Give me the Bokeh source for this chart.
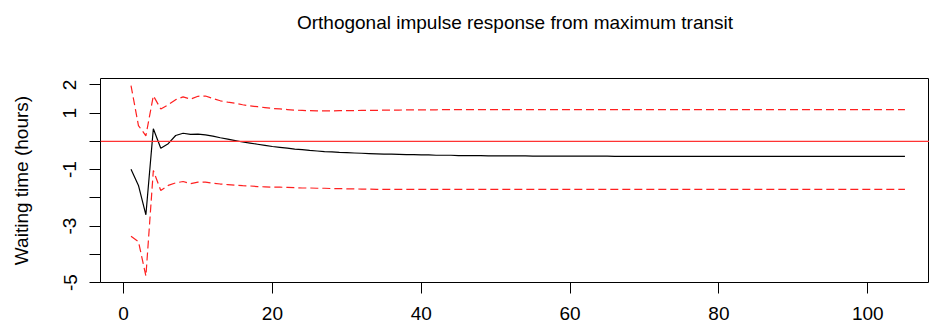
from bokeh.plotting import figure
from bokeh.models import Range1d, FixedTicker, Span, AllLabels, LinearAxis
from bokeh.embed import file_html
from bokeh.resources import INLINE

# horizon steps
steps = list(range(1, 106))

# orthogonal impulse response (black line)
irf = [-0.99, -1.56, -2.60, 0.45, -0.24, -0.08, 0.21, 0.29, 0.25, 0.26,
       0.23, 0.19, 0.13, 0.08, 0.03, -0.02, -0.06, -0.10, -0.14, -0.18,
       -0.21, -0.24, -0.27, -0.29, -0.32, -0.34, -0.36, -0.37, -0.39, -0.40,
       -0.41, -0.42, -0.43, -0.44, -0.45, -0.45, -0.46, -0.47, -0.47, -0.48,
       -0.48, -0.49, -0.49, -0.49, -0.50, -0.50, -0.50, -0.50, -0.51, -0.51,
       -0.51, -0.51, -0.51, -0.51, -0.52, -0.52, -0.52, -0.52, -0.52, -0.52,
       -0.52, -0.52, -0.52, -0.52, -0.52, -0.53, -0.53, -0.53, -0.53, -0.53,
       -0.53, -0.53, -0.53, -0.53, -0.53, -0.53, -0.53, -0.53, -0.53, -0.53,
       -0.53, -0.53, -0.53, -0.53, -0.53, -0.53, -0.53, -0.53, -0.53, -0.53,
       -0.53, -0.53, -0.53, -0.53, -0.53, -0.53, -0.53, -0.53, -0.53, -0.53,
       -0.53, -0.53, -0.53, -0.53, -0.53]

# upper confidence band
upper = [1.98, 0.56, 0.20, 1.62, 1.15, 1.30, 1.48, 1.58, 1.50, 1.60,
         1.61, 1.52, 1.44, 1.39, 1.35, 1.30, 1.26, 1.23, 1.20, 1.17,
         1.15, 1.13, 1.11, 1.10, 1.09, 1.08, 1.08, 1.08, 1.09, 1.09,
         1.09, 1.10, 1.10, 1.10, 1.11, 1.11, 1.11, 1.12, 1.12, 1.12,
         1.12, 1.12, 1.13, 1.13, 1.13, 1.13, 1.13, 1.13, 1.13, 1.13,
         1.13, 1.13, 1.13, 1.13, 1.13, 1.13, 1.13, 1.13, 1.13, 1.13,
         1.13, 1.13, 1.13, 1.13, 1.13, 1.13, 1.13, 1.13, 1.13, 1.13,
         1.13, 1.13, 1.13, 1.13, 1.13, 1.13, 1.13, 1.13, 1.13, 1.13,
         1.13, 1.13, 1.13, 1.13, 1.13, 1.13, 1.13, 1.13, 1.13, 1.13,
         1.13, 1.13, 1.13, 1.13, 1.13, 1.13, 1.13, 1.13, 1.13, 1.13,
         1.13, 1.13, 1.13, 1.13, 1.13]

# lower confidence band
lower = [-3.36, -3.55, -4.77, -1.03, -1.74, -1.56, -1.47, -1.42, -1.50, -1.44,
         -1.44, -1.48, -1.51, -1.53, -1.55, -1.57, -1.58, -1.60, -1.61, -1.62,
         -1.62, -1.63, -1.64, -1.65, -1.65, -1.66, -1.66, -1.67, -1.67, -1.68,
         -1.68, -1.69, -1.69, -1.70, -1.70, -1.70, -1.70, -1.70, -1.70, -1.70,
         -1.70, -1.70, -1.70, -1.70, -1.70, -1.70, -1.70, -1.70, -1.70, -1.70,
         -1.70, -1.70, -1.70, -1.70, -1.70, -1.70, -1.70, -1.70, -1.70, -1.70,
         -1.70, -1.70, -1.70, -1.70, -1.70, -1.70, -1.70, -1.70, -1.70, -1.70,
         -1.70, -1.70, -1.70, -1.70, -1.70, -1.70, -1.70, -1.70, -1.70, -1.70,
         -1.70, -1.70, -1.70, -1.70, -1.70, -1.70, -1.70, -1.70, -1.70, -1.70,
         -1.70, -1.70, -1.70, -1.70, -1.70, -1.70, -1.70, -1.70, -1.70, -1.70,
         -1.70, -1.70, -1.70, -1.70, -1.70]

title_text = "Orthogonal impulse response from maximum transit"
x_ticks = [0, 20, 40, 60, 80, 100]
x_tick_labels = {0: "0\u200b"}
y_ticks = [-5, -4, -3, -2, -1, 0, 1, 2]
y_tick_labels = {2: "2", 1: "1", 0: "", -1: "-1", -2: "", -3: "-3", -4: "", -5: "-5"}

FONT = "Liberation Sans"

p = figure(width=929, height=331, output_backend="svg", toolbar_location=None,
           x_range=Range1d(-3.1, 108.3), y_range=Range1d(-5.0, 2.23),
           min_border_left=100, min_border_right=0, min_border_top=78,
           min_border_bottom=49, background_fill_color="white",
           border_fill_color="white")

xb = p.xaxis[0]
yl = p.yaxis[0]

p.grid.visible = False
p.outline_line_color = "black"
p.outline_line_width = 1

for ax in (xb, yl):
    ax.axis_line_color = None
    ax.major_tick_in = 0
    ax.major_tick_out = 11
    ax.major_tick_line_color = "black"
    ax.minor_tick_line_color = None
    ax.major_label_text_font = FONT
    ax.major_label_text_font_size = "19px"
    ax.major_label_text_color = "black"
    ax.major_label_policy = AllLabels()

xb.ticker = FixedTicker(ticks=x_ticks)
xb.major_label_overrides = x_tick_labels
xb.major_label_standoff = 9

yl.ticker = FixedTicker(ticks=y_ticks)
yl.major_label_overrides = y_tick_labels
yl.major_label_orientation = "vertical"
yl.major_label_standoff = 13
yl.axis_label = "Waiting time (hours)"
yl.axis_label_text_font = FONT
yl.axis_label_text_font_size = "19px"
yl.axis_label_text_font_style = "normal"
yl.axis_label_text_color = "black"
yl.axis_label_standoff = 29

# title drawn as the label of a bare axis above the frame
top = LinearAxis(ticker=FixedTicker(ticks=[]), axis_label=title_text,
                 axis_line_color=None, major_tick_line_color=None,
                 minor_tick_line_color=None, major_tick_out=0, major_tick_in=0,
                 major_label_text_font_size="0px",
                 axis_label_text_font=FONT, axis_label_text_font_size="19px",
                 axis_label_text_font_style="normal", axis_label_text_color="black",
                 axis_label_standoff=46)
p.add_layout(top, "above")

p.line(steps, irf, line_color="black", line_width=1.2)
p.line(steps, upper, line_color="#ff2020", line_width=1.2, line_dash="8 4")
p.line(steps, lower, line_color="#ff2020", line_width=1.2, line_dash="8 4")
p.add_layout(Span(location=0, dimension="width", line_color="#ff3333", line_width=1.3))

open("out.html", "w").write(file_html(p, INLINE))
